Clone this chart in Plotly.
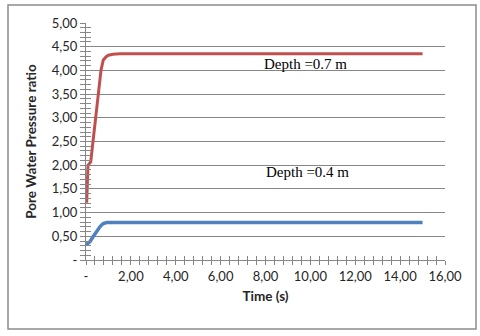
import plotly.graph_objects as go

# Depth 0.7 m series
time_07 = [0.03, 0.09, 0.21, 0.30, 0.40, 0.55, 0.67, 0.77, 0.90, 1.00, 1.20, 1.50, 2.0, 3.0, 5.0, 8.0, 10.0, 12.0, 15.0]
ratio_07 = [1.21, 2.00, 2.07, 2.46, 2.88, 3.59, 4.01, 4.22, 4.29, 4.32, 4.34, 4.35, 4.35, 4.35, 4.35, 4.35, 4.35, 4.35, 4.35]

# Depth 0.4 m series
time_04 = [0.00, 0.10, 0.18, 0.30, 0.40, 0.50, 0.62, 0.70, 0.77, 0.92, 1.20, 2.0, 5.0, 8.0, 10.0, 12.0, 15.0]
ratio_04 = [0.32, 0.35, 0.39, 0.48, 0.56, 0.63, 0.70, 0.74, 0.77, 0.79, 0.79, 0.79, 0.79, 0.79, 0.79, 0.79, 0.79]

y_tickvals = [0, 0.5, 1, 1.5, 2, 2.5, 3, 3.5, 4, 4.5, 5]
y_ticktext = ["-", "0,50", "1,00", "1,50", "2,00", "2,50", "3,00", "3,50", "4,00", "4,50", "5,00"]
x_tickvals = [0, 2, 4, 6, 8, 10, 12, 14, 16]
x_ticktext = ["-", "2,00", "4,00", "6,00", "8,00", "10,00", "12,00", "14,00", "16,00"]

labels = ["Depth =0.7 m", "Depth =0.4 m"]
label_x = [7.84, 7.93]
label_y = [4.14, 1.86]

RED = "#C0504D"
BLUE = "#4F81BD"
GRAY = "#868686"
FONT = "Lato"

fig = go.Figure()
fig.add_trace(go.Scatter(x=time_07, y=ratio_07, mode="lines",
                         line=dict(color=RED, width=3), showlegend=False))
fig.add_trace(go.Scatter(x=time_04, y=ratio_04, mode="lines",
                         line=dict(color=BLUE, width=3.5), showlegend=False))
# invisible trace to activate overlay axes (for crossing tick marks)
fig.add_trace(go.Scatter(x=[None], y=[None], xaxis="x2", yaxis="y2", showlegend=False, hoverinfo="skip"))

for t, lx, ly in zip(labels, label_x, label_y):
    fig.add_annotation(x=lx, y=ly, text=t, showarrow=False, xanchor="left", yanchor="middle",
                       font=dict(family="Liberation Serif", size=15, color="black"))

axis_font = dict(family=FONT, size=13, color="#262626")
title_font = dict(family=FONT, size=13.5, color="#262626")

fig.update_layout(
    width=480, height=336,
    margin=dict(l=86, r=35, t=23, b=76),
    paper_bgcolor="white", plot_bgcolor="white",
    xaxis=dict(range=[0, 16], tickmode="array", tickvals=x_tickvals, ticktext=x_ticktext,
               automargin=False,
               showgrid=False, zeroline=False, showline=True, linecolor=GRAY, linewidth=1,
               ticks="outside", ticklen=4, tickcolor=GRAY,
               minor=dict(dtick=0.4, ticks="outside", ticklen=4, tickcolor=GRAY),
               tickfont=axis_font,
               title=dict(text="<b>Time (s)</b>", font=title_font, standoff=8)),
    yaxis=dict(range=[0, 5], tickmode="array", tickvals=y_tickvals, ticktext=y_ticktext,
               automargin=False,
               showgrid=True, gridcolor=GRAY, gridwidth=1, zeroline=False,
               showline=True, linecolor=GRAY, linewidth=1,
               ticks="outside", ticklen=5, tickcolor=GRAY,
               minor=dict(dtick=0.1, ticks="outside", ticklen=5, tickcolor=GRAY, showgrid=False),
               tickfont=axis_font,
               title=dict(text="<b>Pore Water Pressure ratio</b>", font=title_font, standoff=12)),
    xaxis2=dict(range=[0, 16], overlaying="x", anchor="y2", showgrid=False, zeroline=False,
                automargin=False,
                showticklabels=False, ticks="inside", ticklen=4, tickcolor=GRAY,
                tickmode="array", tickvals=x_tickvals,
                minor=dict(dtick=0.4, ticks="inside", ticklen=4, tickcolor=GRAY)),
    yaxis2=dict(range=[0, 5], overlaying="y", anchor="x2", showgrid=False, zeroline=False,
                automargin=False,
                showticklabels=False, ticks="inside", ticklen=5, tickcolor=GRAY,
                tickmode="array", tickvals=y_tickvals,
                minor=dict(dtick=0.1, ticks="inside", ticklen=5, tickcolor=GRAY)),
    shapes=[dict(type="rect", xref="paper", yref="paper",
                 x0=(8 - 86) / 359, x1=(476 - 86) / 359,
                 y0=(260 - 329) / 237, y1=(260 - 5) / 237,
                 line=dict(color="#8C8C8C", width=1.5), fillcolor="rgba(0,0,0,0)", layer="below")],
)

fig.write_html("out.html", config={"displayModeBar": False},
               post_script="document.body.style.margin='0';")
